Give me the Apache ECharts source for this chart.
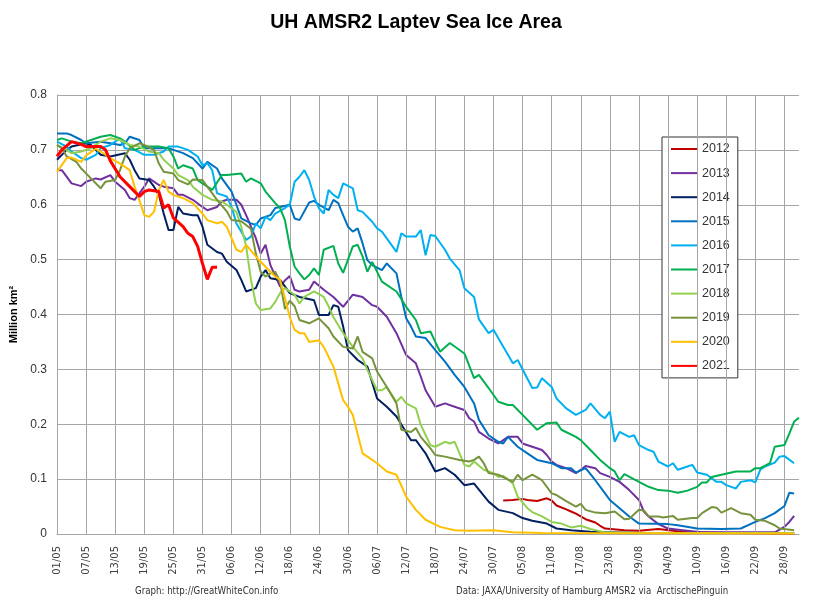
<!DOCTYPE html>
<html lang="en">
<head>
    <meta charset="UTF-8">
    <title>UH AMSR2 Laptev Sea Ice Area</title>
    <script src="https://cdn.jsdelivr.net/npm/echarts@6/dist/echarts.min.js"></script>
    <style>
        html, body { margin: 0; padding: 0; background: #fff; }
        #chart { width: 832px; height: 614px; }
    </style>
</head>
<body>
<div id="chart"></div>
<script>
    // x = days since 01/05, y = million km2
    var tickLabels = ['01/05','07/05','13/05','19/05','25/05','31/05','06/06','12/06','18/06','24/06',
        '30/06','06/07','12/07','18/07','24/07','30/07','05/08','11/08','17/08','23/08',
        '29/08','04/09','10/09','16/09','22/09','28/09'];
    var years = ['2012','2013','2014','2015','2016','2017','2018','2019','2020','2021'];
    var colors = ['#c00000','#7030a0','#002060','#0070c0','#00b0f0','#00b050','#92d050','#77933c','#ffc000','#ff0000'];

    var s2012 = [[92,0.061],[94,0.062],[96,0.064],[97,0.062],[99,0.06],[101,0.065],[102,0.061],[103,0.052],[105,0.045],[106,0.041],[107,0.037],[109,0.027],[111,0.021],[112,0.015],[113,0.01],[117,0.007],[120,0.006],[124,0.009],[128,0.005],[131,0.003],[140,0.002],[152,0.001]];
    var s2013 = [[0,0.663],[1,0.663],[3,0.639],[5,0.634],[6,0.642],[8,0.648],[9,0.646],[11,0.654],[12,0.642],[14,0.627],[15,0.612],[16,0.609],[18,0.633],[19,0.648],[21,0.636],[22,0.633],[24,0.63],[25,0.618],[26,0.618],[28,0.609],[30,0.596],[31,0.59],[33,0.596],[34,0.606],[35,0.609],[37,0.609],[38,0.6],[39,0.581],[41,0.539],[42,0.511],[43,0.527],[44,0.49],[46,0.451],[47,0.462],[48,0.47],[49,0.445],[50,0.442],[52,0.445],[53,0.46],[55,0.445],[57,0.432],[59,0.414],[61,0.436],[63,0.432],[65,0.417],[66,0.414],[68,0.396],[70,0.366],[72,0.326],[74,0.311],[75,0.287],[76,0.262],[78,0.232],[80,0.238],[82,0.232],[84,0.226],[85,0.211],[86,0.205],[87,0.186],[89,0.174],[91,0.165],[93,0.177],[95,0.177],[96,0.165],[98,0.159],[100,0.153],[101,0.144],[102,0.132],[103,0.126],[105,0.12],[107,0.111],[108,0.117],[109,0.124],[111,0.12],[112,0.111],[114,0.104],[116,0.095],[118,0.08],[120,0.062],[121,0.041],[122,0.032],[124,0.018],[126,0.01],[129,0.007],[133,0.003],[148,0.003],[150,0.013],[151,0.022],[152,0.033]];
    var s2014 = [[0,0.682],[2,0.7],[3,0.706],[6,0.712],[7,0.709],[9,0.691],[11,0.688],[14,0.694],[15,0.682],[16,0.663],[17,0.648],[19,0.645],[20,0.633],[21,0.618],[22,0.584],[23,0.554],[24,0.554],[25,0.596],[26,0.584],[28,0.581],[29,0.581],[30,0.56],[31,0.527],[33,0.514],[34,0.511],[35,0.496],[37,0.481],[38,0.463],[39,0.442],[41,0.448],[42,0.469],[43,0.481],[44,0.466],[46,0.463],[48,0.439],[50,0.432],[53,0.426],[54,0.399],[56,0.399],[57,0.417],[58,0.414],[59,0.378],[60,0.335],[62,0.317],[64,0.305],[66,0.247],[68,0.232],[70,0.214],[73,0.171],[74,0.171],[75,0.159],[76,0.147],[78,0.114],[80,0.12],[82,0.108],[84,0.089],[86,0.092],[89,0.059],[91,0.044],[94,0.038],[96,0.029],[98,0.024],[101,0.019],[103,0.01],[106,0.007],[110,0.004],[120,0.002],[152,0.002]];
    var s2015 = [[0,0.73],[2,0.73],[3,0.727],[5,0.718],[6,0.712],[9,0.715],[11,0.712],[13,0.709],[14,0.712],[15,0.724],[17,0.718],[18,0.703],[21,0.703],[23,0.703],[24,0.7],[26,0.694],[28,0.685],[30,0.666],[31,0.678],[33,0.666],[34,0.648],[36,0.624],[37,0.6],[38,0.575],[40,0.566],[41,0.563],[42,0.575],[44,0.581],[45,0.594],[46,0.596],[48,0.6],[49,0.575],[50,0.572],[52,0.604],[53,0.607],[54,0.6],[56,0.59],[57,0.609],[58,0.603],[59,0.581],[60,0.56],[61,0.551],[62,0.557],[63,0.53],[64,0.499],[65,0.49],[67,0.481],[68,0.493],[70,0.475],[71,0.432],[72,0.393],[73,0.378],[74,0.36],[76,0.357],[78,0.335],[80,0.314],[82,0.29],[84,0.268],[86,0.238],[87,0.208],[89,0.18],[91,0.168],[92,0.165],[93,0.177],[95,0.159],[97,0.147],[99,0.135],[102,0.129],[104,0.12],[106,0.12],[107,0.112],[109,0.12],[111,0.098],[113,0.074],[114,0.062],[116,0.047],[118,0.032],[120,0.019],[126,0.018],[128,0.016],[132,0.01],[137,0.009],[141,0.01],[144,0.022],[146,0.029],[148,0.038],[150,0.051],[151,0.075],[152,0.074]];
    var s2016 = [[0,0.715],[2,0.706],[3,0.697],[5,0.685],[6,0.682],[8,0.691],[9,0.703],[11,0.709],[13,0.721],[14,0.703],[16,0.7],[18,0.691],[20,0.691],[22,0.697],[23,0.706],[25,0.706],[27,0.7],[29,0.688],[30,0.672],[31,0.676],[32,0.663],[33,0.621],[34,0.618],[35,0.615],[36,0.596],[37,0.566],[39,0.536],[40,0.542],[41,0.566],[42,0.557],[43,0.578],[44,0.572],[45,0.584],[47,0.594],[48,0.6],[49,0.642],[50,0.651],[51,0.663],[52,0.645],[53,0.615],[54,0.594],[55,0.584],[56,0.627],[57,0.618],[58,0.612],[59,0.639],[61,0.63],[62,0.59],[63,0.587],[65,0.569],[66,0.557],[67,0.551],[70,0.514],[71,0.548],[72,0.542],[74,0.542],[75,0.554],[76,0.508],[77,0.545],[78,0.543],[80,0.518],[81,0.502],[83,0.481],[84,0.448],[86,0.432],[87,0.391],[89,0.366],[90,0.372],[94,0.311],[95,0.317],[98,0.266],[99,0.267],[100,0.284],[102,0.268],[103,0.247],[105,0.229],[107,0.217],[109,0.226],[110,0.238],[112,0.217],[113,0.211],[114,0.223],[115,0.168],[116,0.186],[118,0.177],[119,0.18],[120,0.162],[122,0.153],[123,0.15],[124,0.132],[126,0.123],[127,0.129],[128,0.117],[130,0.123],[131,0.126],[132,0.112],[134,0.108],[136,0.095],[137,0.095],[138,0.089],[140,0.083],[141,0.095],[143,0.098],[144,0.094],[145,0.117],[146,0.123],[148,0.13],[149,0.141],[150,0.142],[152,0.129]];
    var s2017 = [[0,0.718],[1,0.721],[3,0.715],[5,0.712],[7,0.718],[9,0.724],[11,0.727],[13,0.721],[14,0.715],[16,0.7],[18,0.706],[21,0.706],[23,0.703],[24,0.688],[25,0.666],[26,0.672],[28,0.666],[29,0.645],[31,0.633],[32,0.627],[34,0.654],[35,0.654],[38,0.657],[39,0.642],[40,0.648],[42,0.639],[43,0.624],[45,0.603],[46,0.594],[47,0.572],[48,0.524],[49,0.487],[50,0.475],[51,0.464],[52,0.472],[53,0.484],[54,0.472],[55,0.518],[57,0.525],[58,0.493],[59,0.476],[61,0.524],[62,0.527],[63,0.506],[64,0.478],[65,0.496],[67,0.46],[70,0.442],[72,0.414],[74,0.39],[75,0.366],[77,0.369],[78,0.35],[79,0.332],[81,0.348],[84,0.329],[86,0.284],[87,0.29],[89,0.266],[91,0.241],[93,0.235],[94,0.235],[96,0.217],[99,0.19],[101,0.202],[103,0.203],[104,0.19],[107,0.177],[108,0.171],[110,0.153],[112,0.135],[114,0.12],[115,0.114],[116,0.098],[117,0.109],[120,0.095],[122,0.086],[124,0.08],[126,0.079],[128,0.075],[130,0.079],[132,0.086],[133,0.094],[134,0.094],[135,0.104],[137,0.108],[140,0.114],[143,0.114],[144,0.12],[145,0.12],[147,0.129],[148,0.159],[150,0.162],[151,0.183],[152,0.205],[153,0.212]];
    var s2018 = [[0,0.709],[2,0.7],[3,0.694],[5,0.697],[7,0.703],[9,0.715],[11,0.721],[13,0.718],[15,0.709],[17,0.706],[19,0.697],[21,0.694],[22,0.682],[24,0.666],[25,0.654],[27,0.645],[28,0.633],[30,0.618],[32,0.609],[34,0.606],[35,0.6],[37,0.587],[38,0.56],[39,0.524],[40,0.463],[41,0.42],[42,0.408],[44,0.411],[45,0.423],[46,0.439],[47,0.448],[49,0.436],[50,0.42],[51,0.432],[53,0.442],[55,0.432],[56,0.415],[57,0.395],[59,0.366],[61,0.341],[63,0.32],[64,0.299],[66,0.262],[67,0.262],[68,0.268],[70,0.241],[71,0.25],[72,0.238],[74,0.229],[75,0.199],[77,0.162],[78,0.159],[80,0.168],[81,0.165],[82,0.168],[84,0.126],[85,0.123],[86,0.132],[88,0.117],[90,0.111],[91,0.104],[92,0.106],[94,0.092],[95,0.068],[97,0.047],[98,0.04],[100,0.032],[102,0.022],[104,0.019],[106,0.012],[108,0.015],[110,0.009],[113,0.003],[120,0.002],[152,0.002]];
    var s2019 = [[0,0.709],[1,0.703],[2,0.688],[4,0.678],[5,0.666],[7,0.648],[9,0.63],[10,0.642],[12,0.645],[13,0.663],[14,0.688],[15,0.703],[17,0.712],[18,0.709],[20,0.7],[21,0.675],[22,0.66],[24,0.657],[25,0.645],[27,0.637],[28,0.646],[30,0.645],[31,0.633],[33,0.609],[35,0.588],[36,0.572],[38,0.57],[40,0.556],[41,0.511],[42,0.478],[43,0.469],[44,0.475],[45,0.478],[46,0.46],[47,0.41],[48,0.425],[49,0.415],[50,0.39],[52,0.384],[54,0.393],[56,0.375],[57,0.36],[59,0.341],[61,0.338],[62,0.36],[63,0.332],[65,0.32],[66,0.296],[68,0.268],[70,0.238],[71,0.19],[73,0.186],[74,0.193],[75,0.177],[77,0.156],[78,0.144],[80,0.141],[83,0.135],[85,0.132],[86,0.135],[87,0.141],[88,0.129],[89,0.111],[91,0.108],[94,0.095],[95,0.108],[96,0.098],[98,0.108],[100,0.098],[102,0.074],[103,0.071],[105,0.06],[107,0.05],[108,0.055],[109,0.044],[111,0.039],[113,0.038],[115,0.041],[117,0.027],[118,0.028],[120,0.044],[121,0.043],[122,0.032],[124,0.032],[125,0.03],[127,0.033],[128,0.026],[131,0.029],[132,0.029],[133,0.038],[135,0.049],[136,0.048],[137,0.039],[139,0.047],[141,0.038],[143,0.035],[144,0.026],[146,0.024],[148,0.016],[149,0.01],[152,0.007]];
    var s2020 = [[0,0.66],[2,0.685],[3,0.686],[5,0.678],[6,0.69],[8,0.702],[9,0.697],[11,0.685],[13,0.675],[15,0.663],[16,0.633],[17,0.608],[18,0.581],[19,0.578],[20,0.587],[21,0.627],[22,0.645],[23,0.624],[24,0.618],[25,0.615],[26,0.612],[28,0.603],[30,0.584],[31,0.572],[33,0.566],[34,0.569],[35,0.56],[37,0.518],[38,0.514],[39,0.527],[41,0.506],[42,0.496],[44,0.478],[45,0.469],[46,0.463],[47,0.43],[48,0.395],[49,0.372],[50,0.366],[51,0.366],[52,0.35],[54,0.353],[55,0.341],[57,0.305],[59,0.244],[60,0.232],[61,0.217],[63,0.147],[64,0.141],[66,0.129],[68,0.114],[70,0.108],[72,0.068],[74,0.044],[76,0.026],[79,0.013],[82,0.007],[85,0.006],[90,0.007],[94,0.003],[100,0.002],[152,0.001]];
    var s2021 = [[0,0.688],[1,0.7],[3,0.715],[5,0.71],[6,0.706],[9,0.706],[10,0.7],[11,0.68],[13,0.651],[15,0.633],[17,0.615],[18,0.624],[19,0.627],[21,0.624],[22,0.594],[23,0.6],[24,0.576],[26,0.56],[27,0.548],[28,0.542],[29,0.524],[30,0.493],[31,0.464],[32,0.486],[33,0.486]];

    var seriesData = [s2012, s2013, s2014, s2015, s2016, s2017, s2018, s2019, s2020, s2021];

    var myChart = echarts.init(document.getElementById('chart'));

    var gridColor = '#a6a6a6';
    var series = [];
    for (var i = 0; i < years.length; i++) {
        series.push({
            name: years[i],
            type: 'line',
            data: seriesData[i],
            symbol: 'none',
            smooth: false,
            color: colors[i],
            lineStyle: { width: years[i] === '2021' ? 3 : 2, color: colors[i] },
            z: 3 + i
        });
    }
    // vertical grid lines at every tick label
    var vLines = [];
    for (var k = 1; k < tickLabels.length; k++) {
        vLines.push({ xAxis: k * 6 });
    }
    series.push({
        type: 'line',
        data: [],
        silent: true,
        z: 1,
        markLine: {
            silent: true,
            symbol: 'none',
            label: { show: false },
            lineStyle: { color: gridColor, width: 1, type: 'solid' },
            animation: false,
            data: vLines
        }
    });

    var option = {
        animation: false,
        title: {
            text: 'UH AMSR2 Laptev Sea Ice Area',
            left: 'center',
            top: 8,
            textStyle: { fontSize: 19.5, fontWeight: 'bold', color: '#000', fontFamily: 'Liberation Sans' }
        },
        grid: { left: 55, right: 33, top: 95, bottom: 80 },
        legend: {
            data: years,
            orient: 'vertical',
            left: 662,
            top: 137,
            padding: [5, 8, 5, 8],
            itemGap: 10.1,
            itemWidth: 26,
            itemHeight: 14,
            itemStyle: { opacity: 0 },
            backgroundColor: '#fff',
            borderColor: '#333',
            borderWidth: 1,
            textStyle: { fontSize: 12.5, color: '#333', fontFamily: 'Liberation Sans', lineHeight: 14 }
        },
        xAxis: {
            type: 'value',
            min: 0,
            max: 153,
            interval: 6,
            axisLine: { show: true, lineStyle: { color: gridColor } },
            axisTick: { show: false },
            splitLine: { show: false },
            axisLabel: {
                rotate: 90,
                margin: 12,
                fontSize: 10,
                color: '#404040',
                fontFamily: 'DejaVu Sans',
                padding: [7, 0, 0, 0],
                formatter: function (v) {
                    var idx = v / 6;
                    return tickLabels[idx] !== undefined && idx === Math.round(idx) ? tickLabels[idx] : '';
                }
            }
        },
        yAxis: {
            type: 'value',
            min: 0,
            max: 0.8,
            interval: 0.1,
            name: 'Million km²',
            nameLocation: 'middle',
            nameGap: 38,
            nameTextStyle: { fontSize: 11, fontWeight: 'bold', color: '#000', fontFamily: 'Liberation Sans' },
            axisLine: { show: true, lineStyle: { color: gridColor } },
            axisTick: { show: false },
            splitLine: { show: true, lineStyle: { color: gridColor, width: 1 } },
            axisLabel: { fontSize: 12, color: '#333', margin: 10, fontFamily: 'Liberation Sans' }
        },
        graphic: [
            {
                type: 'text',
                left: 135,
                top: 586,
                style: { text: 'Graph: http://GreatWhiteCon.info', fontSize: 9.6, fill: '#333', fontFamily: "'DejaVu Sans Condensed', 'Liberation Sans', sans-serif" }
            },
            {
                type: 'text',
                left: 456,
                top: 586,
                style: { text: 'Data: JAXA/University of Hamburg AMSR2 via  ArctischePinguin', fontSize: 9.6, fill: '#333', fontFamily: "'DejaVu Sans Condensed', 'Liberation Sans', sans-serif" }
            }
        ],
        series: series
    };
    myChart.setOption(option);
</script>
</body>
</html>
